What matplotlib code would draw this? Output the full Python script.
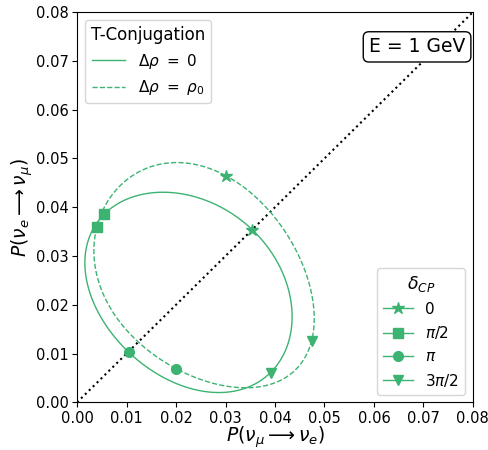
import numpy as np
import matplotlib
matplotlib.use("Agg")
import matplotlib.pyplot as plt
from matplotlib.lines import Line2D

# --- Data ---
# marker positions at delta_CP = 0, pi/2, pi, 3pi/2
delta_marks = [0.0, np.pi / 2, np.pi, 3 * np.pi / 2]
mark_styles = ['*', 's', 'o', 'v']
mark_labels = ['0', r'$\pi/2$', r'$\pi$', r'$3\pi/2$']

# Delta rho = 0 (solid)
p_mue_solid = [0.0354, 0.0055, 0.0104, 0.0391]
p_emu_solid = [0.0354, 0.0386, 0.0103, 0.0061]

# Delta rho = rho_0 (dashed)
p_mue_dashed = [0.0300, 0.0040, 0.0200, 0.0474]
p_emu_dashed = [0.0465, 0.0360, 0.0069, 0.0126]

axis_ticks = [0.00, 0.01, 0.02, 0.03, 0.04, 0.05, 0.06, 0.07, 0.08]

color = 'mediumseagreen'


def bi_prob_curve(vals, n=400):
    # P(delta) = a + b cos(d) + c sin(d) + e cos(2d), passing through the 4 markers
    d = np.array(delta_marks)
    A = np.column_stack([np.ones(4), np.cos(d), np.sin(d), np.cos(2 * d)])
    coef = np.linalg.solve(A, np.array(vals))
    t = np.linspace(0, 2 * np.pi, n)
    return coef[0] + coef[1] * np.cos(t) + coef[2] * np.sin(t) + coef[3] * np.cos(2 * t)


fig = plt.figure(figsize=(4.88, 4.5), dpi=100)
ax = fig.add_axes([0.158, 0.106, 0.811, 0.867])

# diagonal
ax.plot([axis_ticks[0], axis_ticks[-1]], [axis_ticks[0], axis_ticks[-1]],
        color='black', linestyle=':', linewidth=1.5)

ax.plot(bi_prob_curve(p_mue_solid), bi_prob_curve(p_emu_solid),
        color=color, linewidth=1, linestyle='-')
ax.plot(bi_prob_curve(p_mue_dashed), bi_prob_curve(p_emu_dashed),
        color=color, linewidth=1, linestyle='--')

for i, m in enumerate(mark_styles):
    ms = 9 if m == '*' else 7
    ax.plot(p_mue_solid[i], p_emu_solid[i], marker=m, color=color, markersize=ms, linestyle='none')
    ax.plot(p_mue_dashed[i], p_emu_dashed[i], marker=m, color=color, markersize=ms, linestyle='none')

ax.set_xlim(axis_ticks[0], axis_ticks[-1])
ax.set_ylim(axis_ticks[0], axis_ticks[-1])
ax.set_xticks(axis_ticks)
ax.set_yticks(axis_ticks)
ax.set_xticklabels([f'{v:.2f}' for v in axis_ticks])
ax.set_yticklabels([f'{v:.2f}' for v in axis_ticks])
ax.tick_params(labelsize=10.5, pad=2.5)
ax.set_xlabel(r'$P(\nu_\mu \longrightarrow \nu_e)$', fontsize=13.5, labelpad=-1)
ax.set_ylabel(r'$P(\nu_e \longrightarrow \nu_\mu)$', fontsize=13.5, labelpad=1)

# legend 1: line styles
h1 = [Line2D([], [], color=color, linewidth=1, linestyle='-'),
      Line2D([], [], color=color, linewidth=1, linestyle='--')]
leg1 = ax.legend(h1, [r'$\Delta\rho\ =\ 0$', r'$\Delta\rho\ =\ \rho_0$'],
                 title='T-Conjugation', loc='upper left', fontsize=11,
                 title_fontsize=12, handlelength=2.2)
ax.add_artist(leg1)

# legend 2: delta_CP markers
h2 = [Line2D([], [], color=color, linewidth=1, marker=m, markersize=(9 if m == '*' else 7))
      for m in mark_styles]
ax.legend(h2, mark_labels, title=r'$\delta_{CP}$', loc='lower right',
          fontsize=11, title_fontsize=12.5)

ax.text(0.859, 0.911, 'E = 1 GeV', transform=ax.transAxes, fontsize=13.5,
        ha='center', va='center',
        bbox=dict(boxstyle='round,pad=0.3', facecolor='white', edgecolor='black'))

fig.savefig('out.png', dpi=100)
